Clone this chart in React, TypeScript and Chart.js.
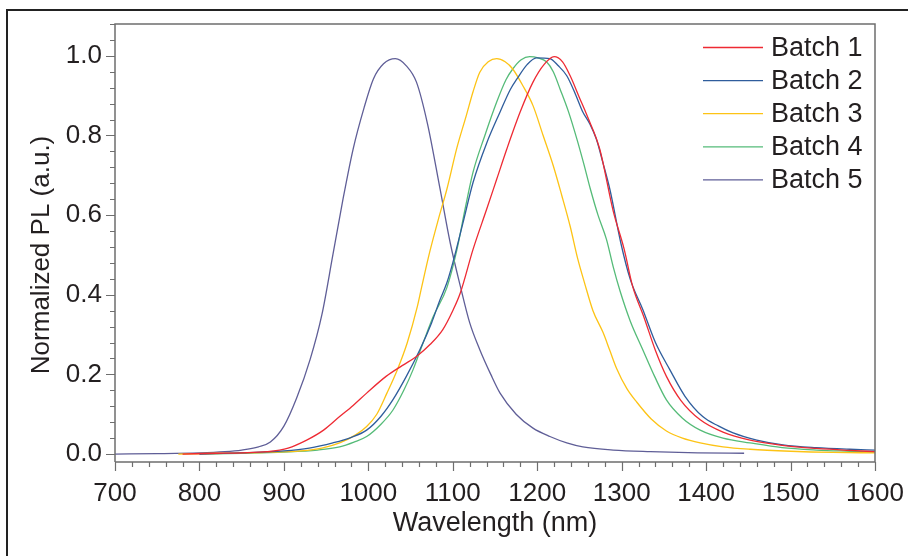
import { useEffect, useRef } from 'react';
import { Chart, registerables } from 'chart.js';

Chart.register(...registerables);

// ---------- data ----------
const batchLabels = ['Batch 1', 'Batch 2', 'Batch 3', 'Batch 4', 'Batch 5'];
const batchColors = ['#ee2a33', '#2f5d9c', '#fdc315', '#55bb78', '#5f5e97'];

const b1Wl = [780, 820, 850, 880, 905, 927, 947, 966, 982, 998, 1021, 1040, 1057, 1073, 1088, 1100, 1109, 1124, 1140, 1152, 1164, 1180, 1195, 1208, 1220, 1230, 1239, 1250, 1259, 1274, 1290, 1303, 1313, 1326, 1340, 1353, 1370, 1393, 1420, 1452, 1490, 1531, 1570, 1600];
const b1Pl = [0.0, 0.002, 0.003, 0.006, 0.015, 0.035, 0.06, 0.094, 0.122, 0.153, 0.195, 0.222, 0.245, 0.275, 0.312, 0.36, 0.405, 0.514, 0.614, 0.69, 0.766, 0.86, 0.934, 0.978, 0.998, 0.985, 0.95, 0.895, 0.85, 0.766, 0.61, 0.514, 0.421, 0.346, 0.26, 0.195, 0.135, 0.086, 0.055, 0.035, 0.022, 0.014, 0.009, 0.006];

const b2Wl = [800, 850, 900, 930, 958, 980, 998, 1015, 1029, 1045, 1061, 1075, 1085, 1093, 1100, 1112, 1124, 1140, 1156, 1168, 1176, 1188, 1199, 1215, 1225, 1235, 1245, 1254, 1262, 1270, 1278, 1286, 1299, 1310, 1325, 1340, 1357, 1375, 1396, 1415, 1432, 1460, 1491, 1530, 1570, 1600];
const b2Pl = [0.0, 0.003, 0.008, 0.015, 0.028, 0.042, 0.06, 0.095, 0.136, 0.195, 0.262, 0.33, 0.388, 0.43, 0.48, 0.58, 0.682, 0.78, 0.859, 0.915, 0.942, 0.978, 0.995, 0.993, 0.975, 0.95, 0.905, 0.859, 0.83, 0.791, 0.73, 0.665, 0.53, 0.44, 0.363, 0.28, 0.212, 0.145, 0.094, 0.07, 0.053, 0.035, 0.023, 0.016, 0.012, 0.01];

const b3Wl = [775, 830, 880, 920, 945, 966, 985, 998, 1010, 1022, 1034, 1046, 1058, 1063, 1073, 1083, 1093, 1105, 1116, 1124, 1132, 1142, 1152, 1162, 1171, 1183, 1195, 1207, 1219, 1229, 1239, 1248, 1256, 1266, 1278, 1286, 1294, 1306, 1318, 1335, 1353, 1372, 1393, 1420, 1452, 1500, 1550, 1600];
const b3Pl = [0.0, 0.002, 0.004, 0.008, 0.015, 0.028, 0.048, 0.069, 0.1, 0.153, 0.21, 0.279, 0.37, 0.418, 0.51, 0.59, 0.665, 0.77, 0.85, 0.91, 0.959, 0.985, 0.993, 0.985, 0.967, 0.925, 0.875, 0.8, 0.724, 0.65, 0.572, 0.49, 0.43, 0.36, 0.305, 0.26, 0.215, 0.165, 0.13, 0.088, 0.058, 0.04, 0.028, 0.018, 0.012, 0.007, 0.004, 0.003];

const b4Wl = [800, 850, 900, 940, 966, 983, 998, 1015, 1029, 1042, 1053, 1065, 1077, 1093, 1105, 1115, 1124, 1138, 1152, 1163, 1171, 1181, 1191, 1201, 1211, 1219, 1227, 1237, 1247, 1255, 1263, 1272, 1282, 1290, 1298, 1310, 1325, 1339, 1353, 1372, 1393, 1420, 1452, 1490, 1531, 1570, 1600];
const b4Pl = [0.0, 0.002, 0.005, 0.01, 0.018, 0.03, 0.044, 0.075, 0.11, 0.16, 0.212, 0.28, 0.346, 0.418, 0.514, 0.62, 0.708, 0.8, 0.884, 0.94, 0.967, 0.99, 0.998, 0.995, 0.985, 0.96, 0.917, 0.86, 0.791, 0.73, 0.665, 0.6, 0.539, 0.47, 0.41, 0.335, 0.262, 0.195, 0.136, 0.09, 0.06, 0.04, 0.028, 0.016, 0.01, 0.007, 0.005];

const b5Wl = [700, 750, 800, 830, 850, 870, 884, 900, 915, 931, 945, 958, 970, 982, 995, 1006, 1018, 1032, 1045, 1057, 1070, 1085, 1097, 1109, 1120, 1132, 1145, 1156, 1175, 1195, 1215, 1235, 1254, 1290, 1334, 1390, 1445];
const b5Pl = [0.0, 0.001, 0.003, 0.006, 0.01, 0.018, 0.03, 0.07, 0.14, 0.237, 0.35, 0.5, 0.64, 0.766, 0.87, 0.942, 0.98, 0.993, 0.975, 0.934, 0.83, 0.665, 0.53, 0.421, 0.33, 0.262, 0.2, 0.153, 0.1, 0.065, 0.044, 0.028, 0.018, 0.01, 0.006, 0.003, 0.002];

const seriesWl = [b1Wl, b2Wl, b3Wl, b4Wl, b5Wl];
const seriesPl = [b1Pl, b2Pl, b3Pl, b4Pl, b5Pl];

const xMin = 700;
const xMax = 1600;
const xMajorStep = 100;
const xMinorStep = 20;
const yMin = -0.02;
const yMax = 1.08;
const yTickValues = [0.0, 0.2, 0.4, 0.6, 0.8, 1.0];
const yMinorStep = 0.04;

const xTitle = 'Wavelength (nm)';
const yTitle = 'Normalized PL (a.u.)';

const FONT = '"Liberation Sans", Arial, sans-serif';
const TEXT = '#231f20';
const AXIS = '#6e6e6e';

const framePlugin = {
  id: 'framePlugin',
  beforeDraw(chart: any) {
    const ctx = chart.ctx;
    ctx.save();
    ctx.strokeStyle = '#222';
    ctx.lineWidth = 2;
    ctx.beginPath();
    ctx.moveTo(7, chart.height);
    ctx.lineTo(7, 10);
    ctx.lineTo(chart.width, 10);
    ctx.stroke();
    ctx.restore();
  },
  afterDraw(chart: any) {
    const ctx = chart.ctx;
    const { left, right, top, bottom } = chart.chartArea;
    const xs = chart.scales.x;
    const ys = chart.scales.y;
    ctx.save();
    ctx.strokeStyle = AXIS;
    ctx.lineWidth = 1.5;
    // frame
    ctx.beginPath();
    ctx.moveTo(left, bottom);
    ctx.lineTo(left, top);
    ctx.lineTo(right, top);
    ctx.lineTo(right, bottom);
    ctx.lineTo(left, bottom);
    ctx.stroke();
    // x ticks
    ctx.lineWidth = 1.2;
    ctx.beginPath();
    for (let v = xMin; v <= xMax + 0.001; v += xMinorStep) {
      const px = Math.round(xs.getPixelForValue(v)) + 0.5;
      const major = Math.abs((v - xMin) % xMajorStep) < 0.001;
      ctx.moveTo(px, bottom);
      ctx.lineTo(px, bottom + (major ? 9 : 5));
    }
    // y ticks
    for (let k = 0; k * yMinorStep <= yMax + 1e-6; k++) {
      const v = k * yMinorStep;
      const py = Math.round(ys.getPixelForValue(v)) + 0.5;
      const major = k % 5 === 0;
      ctx.moveTo(left, py);
      ctx.lineTo(left - (major ? 9 : 5), py);
    }
    ctx.stroke();

    // y title
    ctx.fillStyle = TEXT;
    ctx.font = `26px ${FONT}`;
    ctx.textAlign = 'center';
    ctx.textBaseline = 'middle';
    ctx.save();
    ctx.translate(42, ys.getPixelForValue(0.5));
    ctx.rotate(-Math.PI / 2);
    ctx.fillText(yTitle, 0, 0);
    ctx.restore();

    // legend
    const ds = chart.data.datasets;
    ctx.textAlign = 'left';
    ctx.font = `27px ${FONT}`;
    for (let i = 0; i < ds.length; i++) {
      const y = 47.5 + i * 33.1;
      ctx.strokeStyle = ds[i].borderColor;
      ctx.lineWidth = 1.3;
      ctx.beginPath();
      ctx.moveTo(703, y);
      ctx.lineTo(763, y);
      ctx.stroke();
      ctx.fillStyle = TEXT;
      ctx.fillText(ds[i].label, 771, y + 1);
    }
    ctx.restore();
  },
};

export default function App() {
  const ref = useRef<HTMLCanvasElement | null>(null);

  useEffect(() => {
    if (!ref.current) return;
    const datasets = batchLabels.map((label, i) => ({
      label,
      data: seriesWl[i].map((x, j) => ({ x, y: seriesPl[i][j] })),
      borderColor: batchColors[i],
      backgroundColor: batchColors[i],
      borderWidth: 1.3,
      pointRadius: 0,
      fill: false,
      tension: 0.4,
      cubicInterpolationMode: 'monotone' as const,
    }));

    const chart = new Chart(ref.current, {
      type: 'line',
      data: { datasets },
      options: {
        animation: false,
        responsive: false,
        layout: { padding: { left: 0, right: 33, top: 24, bottom: 0 } },
        plugins: {
          legend: { display: false },
          tooltip: { enabled: false },
        },
        scales: {
          x: {
            type: 'linear',
            min: xMin,
            max: xMax,
            grid: { display: false, drawTicks: false },
            border: { display: false },
            ticks: {
              stepSize: xMajorStep,
              padding: 16,
              color: TEXT,
              font: { family: FONT, size: 26 },
              maxRotation: 0,
              autoSkip: false,
              callback: (v: any) => String(v),
            },
            title: {
              display: true,
              text: xTitle,
              color: TEXT,
              font: { family: FONT, size: 27 },
              padding: { top: 0, bottom: 16 },
            },
            afterFit: (s: any) => {
              s.height = 94;
              s.paddingLeft = 0;
              s.paddingRight = 0;
            },
          },
          y: {
            type: 'linear',
            min: yMin,
            max: yMax,
            grid: { display: false, drawTicks: false },
            border: { display: false },
            afterBuildTicks: (s: any) => {
              s.ticks = yTickValues.map((v) => ({ value: v }));
            },
            ticks: {
              padding: 13,
              color: TEXT,
              font: { family: FONT, size: 26 },
              callback: (v: any) => Number(v).toFixed(1),
            },
            afterFit: (s: any) => {
              s.width = 115;
              s.paddingTop = 0;
              s.paddingBottom = 0;
            },
          },
        },
      },
      plugins: [framePlugin],
    });
    return () => chart.destroy();
  }, []);

  return (
    <div style={{ position: 'fixed', left: 0, top: 0, width: 908, height: 556, background: '#fff' }}>
      <canvas ref={ref} width={908} height={556} style={{ display: 'block' }} />
    </div>
  );
}
